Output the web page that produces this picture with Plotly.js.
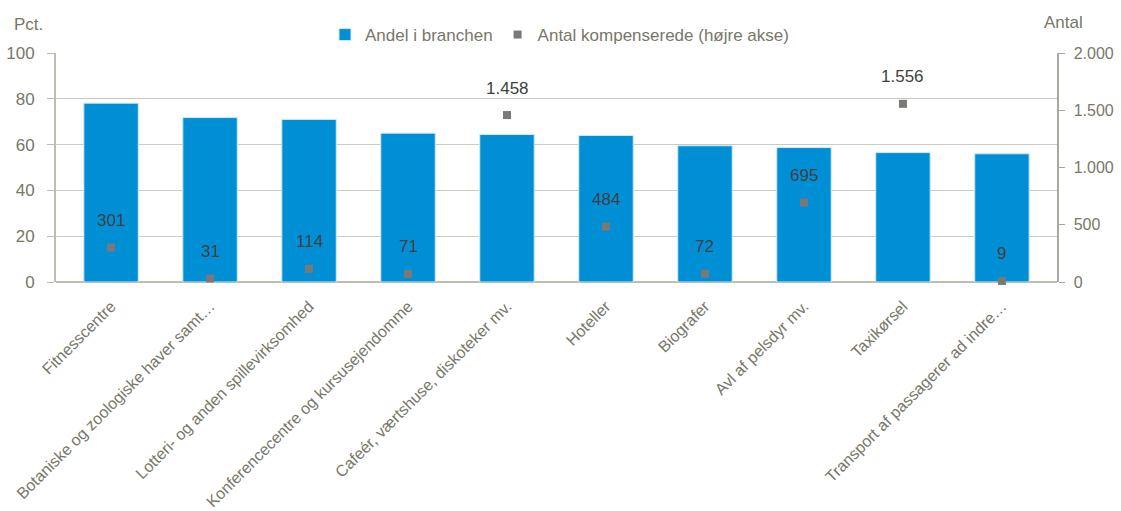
<!DOCTYPE html>
<html>
<head>
<meta charset="utf-8">
<script src="https://cdn.plot.ly/plotly-3.0.1.min.js"></script>
<style>html,body{margin:0;padding:0;background:#fff;}#chart{width:1121px;height:511px;}</style>
</head>
<body>
<div id="chart"></div>
<script>
const categories = ["Fitnesscentre","Botaniske og zoologiske haver samt…","Lotteri- og anden spillevirksomhed","Konferencecentre og kursusejendomme","Cafeér, værtshuse, diskoteker mv.","Hoteller","Biografer","Avl af pelsdyr mv.","Taxikørsel","Transport af passagerer ad indre…"];
const andel = [78.1, 71.8, 71.0, 65.0, 64.4, 64.0, 59.5, 58.7, 56.5, 56.0];
const antal = [301, 31, 114, 71, 1458, 484, 72, 695, 1556, 9];
const antalLabels = ["301","31","114","71","1.458","484","72","695","1.556","9"];

const font = "'Liberation Sans',Arial,sans-serif";
const tickColor = "#77776a";

const traces = [
  {type:"bar", x:categories, y:andel, name:"Andel i branchen",
   marker:{color:"#008fd5", line:{color:"#cfe9f7", width:1}}, yaxis:"y", hoverinfo:"y"},
  {type:"scatter", mode:"markers", x:categories, y:antal, name:"Antal kompenserede (højre akse)",
   marker:{symbol:"square", size:8, color:"#7b7978"}, yaxis:"y2", cliponaxis:false}
];

const annotations = categories.map((c,i)=>({
  x:c, y:antal[i], xref:"x", yref:"y2", text:antalLabels[i], showarrow:false,
  yshift:27, font:{family:font, size:17, color:"#404040"}
}));
annotations.push({xref:"paper", yref:"paper", x:-0.044, y:1.0, yshift:17, xanchor:"left", yanchor:"bottom",
  text:"Pct.", showarrow:false, font:{family:font, size:17, color:tickColor}});
annotations.push({xref:"paper", yref:"paper", x:0.9855, y:1.0, yshift:19, xanchor:"left", yanchor:"bottom",
  text:"Antal", showarrow:false, font:{family:font, size:17, color:tickColor}});

const layout = {
  width:1121, height:511,
  margin:{l:56, r:64, t:53, b:229},
  paper_bgcolor:"#fff", plot_bgcolor:"#fff",
  separators:",.",
  font:{family:font, size:17, color:tickColor},
  bargap:0.45,
  showlegend:true,
  legend:{orientation:"h", x:0.503, xanchor:"center", y:1.0, yanchor:"bottom", yref:"paper",
          font:{family:font, size:17, color:tickColor}, itemwidth:20, bgcolor:"rgba(0,0,0,0)"},
  xaxis:{type:"category", tickangle:-45, tickfont:{family:font, size:16, color:tickColor},
         showline:false, ticks:"", showgrid:false, automargin:false, ticklabelstandoff:11},
  yaxis:{range:[0,100], dtick:20, showgrid:true, gridcolor:"#cbcbbf", gridwidth:1.3,
         showline:true, linecolor:"#bdbdb2", linewidth:2, ticks:"outside", ticklen:7, tickcolor:"#bdbdb2",
         tickfont:{family:font, size:17, color:tickColor}, zeroline:true, zerolinecolor:"#bdbdb2", zerolinewidth:2,
         automargin:false, ticklabelstandoff:9},
  yaxis2:{range:[0,2000], dtick:500, overlaying:"y", side:"right", showgrid:false,
          showline:true, linecolor:"#a8a8a0", linewidth:1.5, ticks:"outside", ticklen:6, tickcolor:"#a8a8a0",
          tickfont:{family:font, size:16, color:tickColor}, tickformat:",d", zeroline:false,
          automargin:false, ticklabelstandoff:6},
  annotations:annotations
};

Plotly.newPlot("chart", traces, layout, {displayModeBar:false, staticPlot:true});
</script>
</body>
</html>
